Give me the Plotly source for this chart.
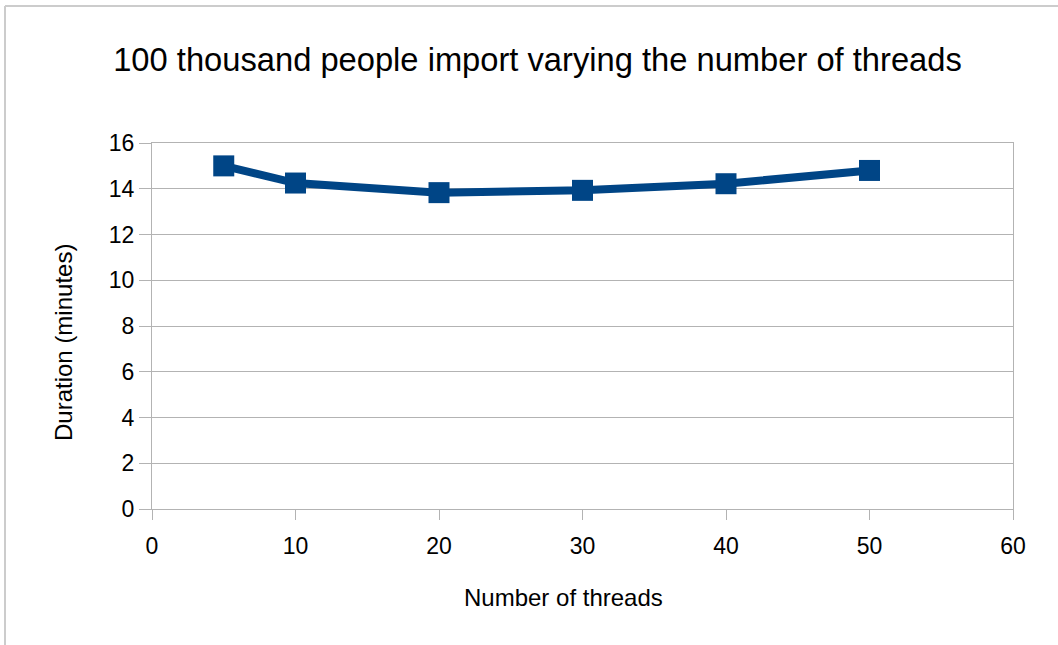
import plotly.graph_objects as go

threads = [5, 10, 20, 30, 40, 50]
duration = [15.0, 14.25, 13.83, 13.93, 14.22, 14.8]

x_ticks = [0, 10, 20, 30, 40, 50, 60]
y_ticks = [0, 2, 4, 6, 8, 10, 12, 14, 16]

title_text = "100 thousand people import varying the number of threads"
x_title = "Number of threads"
y_title = "Duration (minutes)"

W, H = 1058, 645
L, R, T, B = 152, 45, 143, 136
PW, PH = W - L - R, H - T - B

fig = go.Figure()
fig.add_trace(go.Scatter(
    x=threads, y=duration, mode="lines+markers",
    line=dict(color="#004586", width=8),
    marker=dict(symbol="square", size=21, color="#004586"),
    showlegend=False,
))

grid = "#b3b3b3"
font = "Liberation Sans, Arial, sans-serif"

fig.update_layout(
    width=W, height=H,
    margin=dict(l=L, r=R, t=T, b=B),
    paper_bgcolor="white", plot_bgcolor="white",
    font=dict(family=font, color="#000000"),
    title=dict(text=title_text, x=(113 + 962) / 2 / W, xanchor="center",
               y=1 - 60 / H, yanchor="middle",
               font=dict(size=32.7, family=font, color="#000000")),
    xaxis=dict(range=[0, 60], tickvals=x_ticks, ticks="outside", ticklen=10,
               tickcolor=grid, showline=True, linecolor=grid, mirror=True,
               showgrid=False, zeroline=False, ticklabelstandoff=6,
               tickfont=dict(size=23)),
    yaxis=dict(range=[0, 16], tickvals=y_ticks, ticks="outside", ticklen=12,
               tickcolor=grid, showline=True, linecolor=grid, mirror=True,
               showgrid=True, gridcolor=grid, gridwidth=1, zeroline=False,
               tickfont=dict(size=23)),
)

# axis titles placed as in the reference
fig.add_annotation(text=x_title, xref="paper", yref="paper",
                   x=(563.5 - L) / PW, y=-(597 - (T + PH)) / PH,
                   xanchor="center", yanchor="middle", showarrow=False,
                   font=dict(size=24, family=font, color="#000000"))
fig.add_annotation(text=y_title, xref="paper", yref="paper",
                   x=(63 - L) / PW, y=1 - (343 - T) / PH, textangle=-90,
                   xanchor="center", yanchor="middle", showarrow=False,
                   font=dict(size=24, family=font, color="#000000"))

# outer chart frame (top and left edges visible in the reference)
fig.add_shape(type="line", xref="paper", yref="paper",
              x0=(5 - L) / PW, x1=(W + 5 - L) / PW,
              y0=1 + (T - 6) / PH, y1=1 + (T - 6) / PH,
              line=dict(color="#cccccc", width=2))
fig.add_shape(type="line", xref="paper", yref="paper",
              x0=(5 - L) / PW, x1=(5 - L) / PW,
              y0=1 + (T - 6) / PH, y1=-(B + 5) / PH,
              line=dict(color="#cccccc", width=2))

fig.write_html("out.html")
